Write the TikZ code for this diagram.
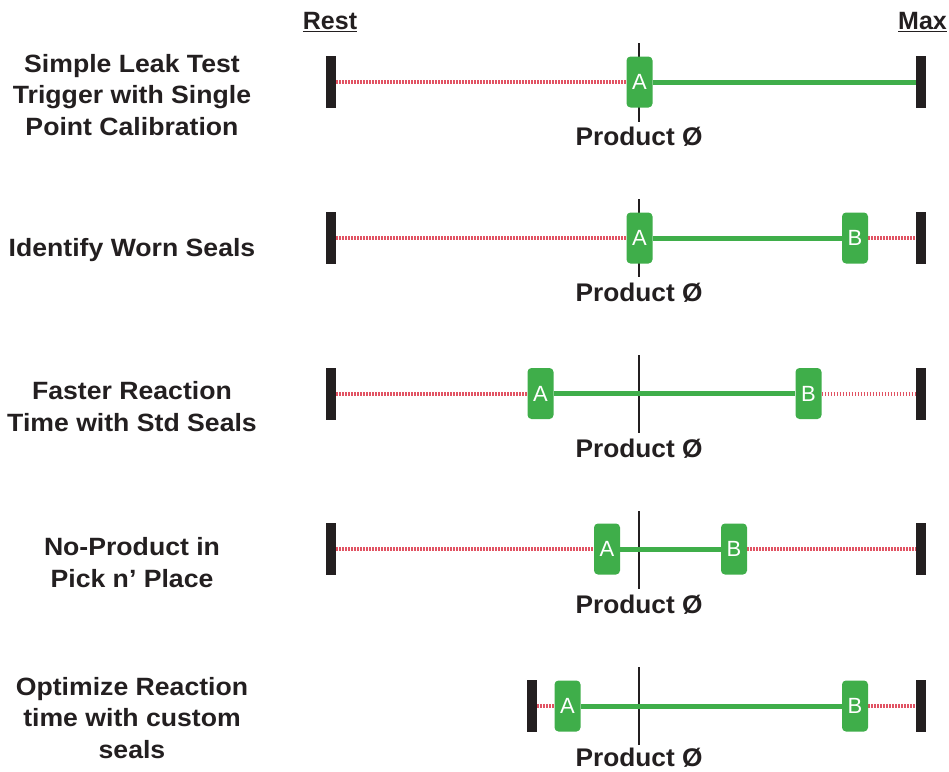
\documentclass[tikz,border=0pt]{standalone}
\usepackage{fontspec}
\setmainfont{Liberation Sans}
\newfontfamily\lblfont{Liberation Sans}[FakeStretch=1.065]
\newfontfamily\prodfont{Liberation Sans}[FakeStretch=1.03]
\usetikzlibrary{backgrounds}
\definecolor{gfill}{HTML}{3FAE4A}
\definecolor{rdash}{HTML}{DC3548}
\definecolor{barc}{HTML}{231F20}
\tikzset{
  endbar/.style={draw=none,fill=barc,minimum width=10pt,minimum height=52pt,inner sep=0pt},
  gbox/.style={draw=none,fill=gfill,rounded corners=4pt,minimum width=26pt,minimum height=51pt,inner sep=0pt,text=white,font=\fontsize{22}{24}\selectfont},
  redline/.style={draw=rdash!85,line width=4pt,dash pattern=on 1.4pt off 1.6pt},
  grnline/.style={draw=gfill,line width=5pt},
  prodline/.style={draw=barc,line width=2pt},
  lbl/.style={align=center,text=barc,font=\lblfont\fontsize{25}{31.5}\selectfont\bfseries,inner sep=0pt},
  prod/.style={text=barc,font=\prodfont\fontsize{25.5}{30}\selectfont\bfseries,inner sep=0pt},
  hdr/.style={text=barc,font=\fontsize{25}{30}\selectfont\bfseries,inner sep=0pt}
}
\begin{document}
\begin{tikzpicture}[x=1pt,y=-1pt]
\useasboundingbox (0,0) rectangle (949,771);
% headers
\node[hdr] (rest) at (330,22) {\underline{Rest}};
\node[hdr,anchor=east] (max) at (947,22) {\underline{Max}};
% row labels
\node[lbl] (lab1) at (132,95) {Simple Leak Test\\Trigger with Single\\Point Calibration};
\node[lbl] (lab2) at (132,250) {Identify Worn Seals};
\node[lbl] (lab3) at (132,406.5) {Faster Reaction\\Time with Std Seals};
\node[lbl] (lab4) at (132,562.5) {No-Product in\\Pick n’ Place};
\node[lbl] (lab5) at (132,718) {Optimize Reaction\\time with custom\\seals};
% row 1
\node[endbar] (L1) at (331,82) {};
\node[endbar] (R1) at (921,82) {};
\node[gbox] (A1) at (639.5,82) {A};
\coordinate (P1t) at (639,43);
\coordinate (P1b) at (639,122);
\node[prod] (T1) at (639,137) {Product Ø};
% row 2
\node[endbar] (L2) at (331,238) {};
\node[endbar] (R2) at (921,238) {};
\node[gbox] (A2) at (639.5,238) {A};
\node[gbox] (B2) at (855,238) {B};
\coordinate (P2t) at (639,199);
\coordinate (P2b) at (639,277);
\node[prod] (T2) at (639,293) {Product Ø};
% row 3
\node[endbar] (L3) at (331,393.5) {};
\node[endbar] (R3) at (921,393.5) {};
\node[gbox] (A3) at (540.5,393.5) {A};
\node[gbox] (B3) at (808.5,393.5) {B};
\coordinate (P3t) at (639,355);
\coordinate (P3b) at (639,433);
\node[prod] (T3) at (639,449) {Product Ø};
% row 4
\node[endbar] (L4) at (331,549) {};
\node[endbar] (R4) at (921,549) {};
\node[gbox] (A4) at (607,549) {A};
\node[gbox] (B4) at (734,549) {B};
\coordinate (P4t) at (639,511);
\coordinate (P4b) at (639,589);
\node[prod] (T4) at (639,605) {Product Ø};
% row 5
\node[endbar] (L5) at (532,706) {};
\node[endbar] (R5) at (921,706) {};
\node[gbox] (A5) at (567.5,706) {A};
\node[gbox] (B5) at (855,706) {B};
\coordinate (P5t) at (639,667);
\coordinate (P5b) at (639,745);
\node[prod] (T5) at (639,758) {Product Ø};
\begin{scope}[on background layer]
  \draw[prodline] (P1t) -- (P1b);
  \draw[prodline] (P2t) -- (P2b);
  \draw[prodline] (P3t) -- (P3b);
  \draw[prodline] (P4t) -- (P4b);
  \draw[prodline] (P5t) -- (P5b);
  \draw[redline] (L1.east) -- (A1.west);
  \draw[grnline] (A1.east) -- (R1.west);
  \draw[redline] (L2.east) -- (A2.west);
  \draw[grnline] (A2.east) -- (B2.west);
  \draw[redline] (B2.east) -- (R2.west);
  \draw[redline] (L3.east) -- (A3.west);
  \draw[grnline] (A3.east) -- (B3.west);
  \draw[redline] (B3.east) -- (R3.west);
  \draw[redline] (L4.east) -- (A4.west);
  \draw[grnline] (A4.east) -- (B4.west);
  \draw[redline] (B4.east) -- (R4.west);
  \draw[redline] (L5.east) -- (A5.west);
  \draw[grnline] (A5.east) -- (B5.west);
  \draw[redline] (B5.east) -- (R5.west);
\end{scope}
\end{tikzpicture}
\end{document}
